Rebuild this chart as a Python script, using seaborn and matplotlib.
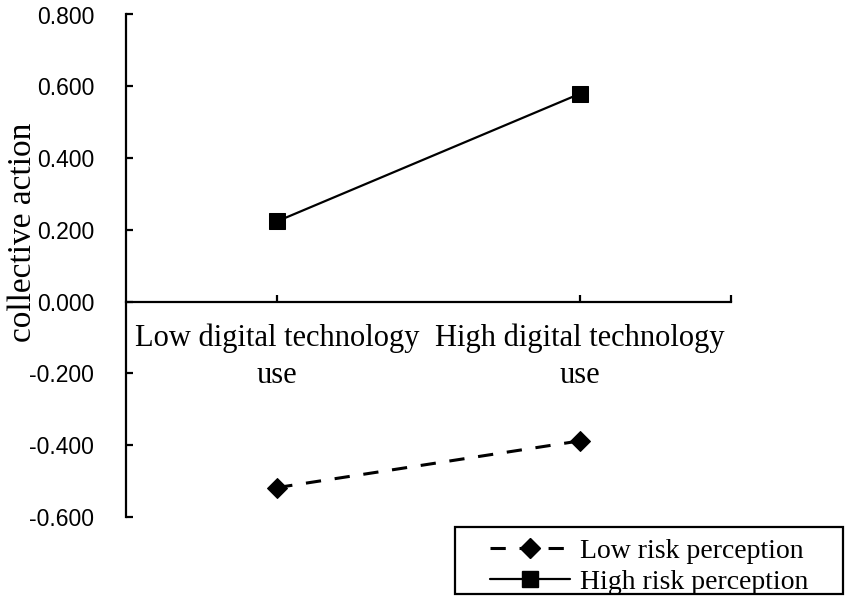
import matplotlib
matplotlib.use("Agg")
import matplotlib.pyplot as plt
import seaborn as sns
import pandas as pd
from matplotlib.lines import Line2D
from matplotlib.patches import Rectangle

categories = ["Low digital technology\nuse", "High digital technology\nuse"]
series_names = ["Low risk perception", "High risk perception"]
low_risk = [-0.518, -0.388]
high_risk = [0.224, 0.579]
yticks = [-0.6, -0.4, -0.2, 0.0, 0.2, 0.4, 0.6, 0.8]

df = pd.DataFrame({
    "x": categories * 2,
    "y": low_risk + high_risk,
    "group": [series_names[0]] * 2 + [series_names[1]] * 2,
})

sns.set_style("ticks")
plt.rcParams["font.family"] = ["Liberation Serif", "DejaVu Serif"]
plt.rcParams["text.color"] = "black"
plt.rcParams["axes.labelcolor"] = "black"
plt.rcParams["xtick.color"] = "black"
plt.rcParams["ytick.color"] = "black"

fig = plt.figure(figsize=(8.51, 6.09), dpi=100)
ax = fig.add_axes([126 / 851, 1 - 517 / 609, (731 - 126) / 851, (517 - 14.5) / 609])

sns.lineplot(data=df[df.group == series_names[0]], x="x", y="y", ax=ax,
             color="black", lw=2.2, marker="D", markersize=10.5,
             markeredgecolor="black", linestyle=(0, (5, 4.5)), sort=False)
sns.lineplot(data=df[df.group == series_names[1]], x="x", y="y", ax=ax,
             color="black", lw=1.6, marker="s", markersize=12,
             markeredgecolor="black", sort=False)

ax.set_xlim(-0.5, 1.5)
ax.set_ylim(-0.6, 0.8)
ax.set_yticks(yticks)
ax.set_yticklabels([f"{v:.3f}" for v in yticks])
ax.set_xticks([0, 1])
ax.set_xticklabels(categories)
ax.set_xticks([1.5], minor=True)

ax.spines["top"].set_visible(False)
ax.spines["right"].set_visible(False)
ax.spines["bottom"].set_position(("data", 0))
for s in ("left", "bottom"):
    ax.spines[s].set_linewidth(1.6)
    ax.spines[s].set_color("black")

ax.tick_params(axis="y", direction="in", length=5, width=1.6, pad=23, colors="black",
               labelsize=16.5, labelfontfamily="Liberation Sans")
ax.tick_params(axis="x", which="both", direction="in", length=5, width=1.6, pad=16,
               colors="black", labelsize=22)

ax.set_xlabel("")
ax.set_ylabel("collective action", fontsize=24, color="black")
ax.yaxis.set_label_coords(-0.146, 0.566)

# legend box
x0, x1, y0, y1 = 455 / 851, 843 / 851, 1 - 594 / 609, 1 - 527 / 609
fig.patches.append(Rectangle((x0, y0), x1 - x0, y1 - y0, transform=fig.transFigure,
                             fill=False, edgecolor="black", lw=1.6))
handles = [
    Line2D([], [], color="black", lw=2.2, linestyle=(0, (5, 4.5)), marker="D", markersize=10.5),
    Line2D([], [], color="black", lw=1.6, marker="s", markersize=12),
]
leg = ax.legend(handles, series_names, loc="center",
                bbox_to_anchor=((x0 + x1) / 2, (y0 + y1) / 2 - 0.010),
                bbox_transform=fig.transFigure,
                fontsize=20, frameon=False, labelcolor="black",
                handlelength=2.9, handletextpad=0.35, borderpad=0,
                labelspacing=0.2, borderaxespad=0, numpoints=1)

fig.canvas.draw()
for tk in ax.xaxis.get_major_ticks():
    tk.label1.set_linespacing(1.33)

fig.savefig("out.png", dpi=100)
